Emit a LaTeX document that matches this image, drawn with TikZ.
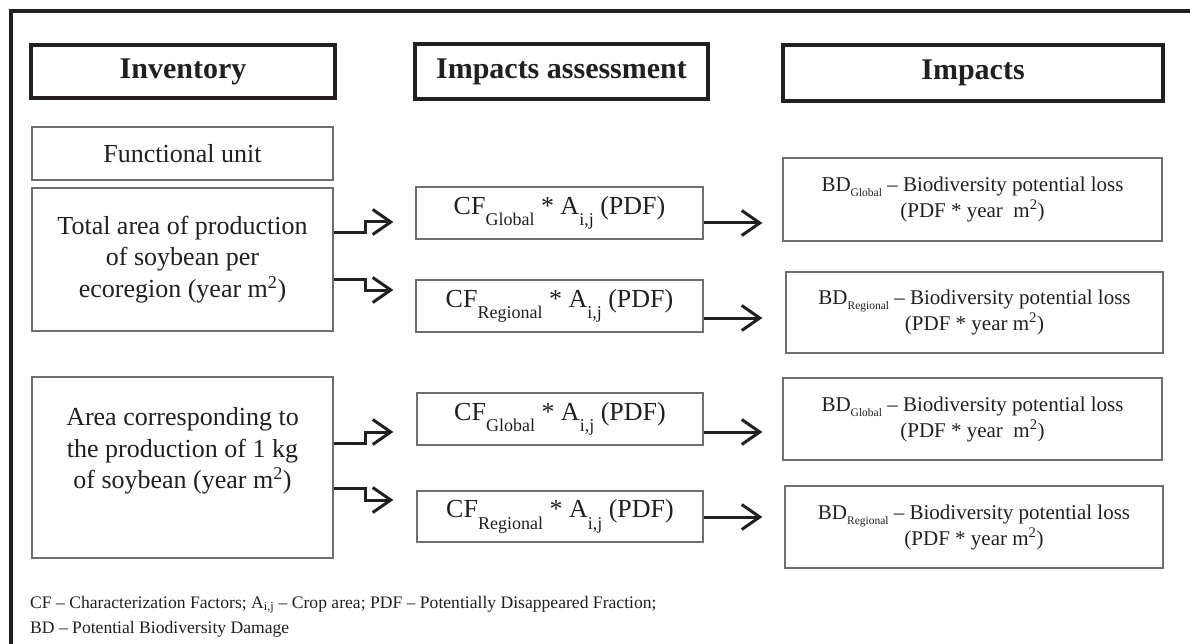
\documentclass[tikz,border=0pt]{standalone}
\usepackage{fontspec}
\setmainfont{Liberation Serif}
\usetikzlibrary{arrows.meta}
\definecolor{ink}{HTML}{231F20}
\definecolor{edge}{HTML}{6D6E70}
\newcommand\lowsub[1]{\raisebox{-0.55ex}{\fontsize{11.5}{12}\selectfont #1}}
\newcommand\cfsub[1]{\raisebox{-0.45em}{\fontsize{18}{18}\selectfont #1}}
\begin{document}
\begin{tikzpicture}[x=1pt,y=-1pt,
  hdr/.style={draw=ink, line width=3.5pt, text=ink, font=\fontsize{30}{34}\selectfont\bfseries, inner sep=0pt},
  box/.style={draw=edge, line width=1.3pt, text=ink, align=center, inner sep=0pt},
  big/.style={font=\fontsize{26}{31.5}\selectfont},
  small/.style={font=\fontsize{21}{26}\selectfont},
  foot/.style={text=ink, font=\fontsize{17.6}{22}\selectfont, inner sep=0pt, anchor=base west},
  arr/.style={draw=ink, line width=3pt, line join=miter, -{Straight Barb[length=18pt,width=25pt]}}
]
\useasboundingbox (0,0) rectangle (1190,644);
\fill[white] (0,0) rectangle (1190,644);
% outer frame (top and left)
\draw[ink, line width=4pt, line join=miter] (10.5,644) -- (10.5,11) -- (1190,11);

% headers
\node[hdr, minimum width=304, minimum height=53] (inv) at (183,71.5) {Inventory};
\node[hdr, minimum width=293, minimum height=55] (ia) at (561.5,71.5) {Impacts assessment};
\node[hdr, minimum width=380, minimum height=56] (imp) at (973,73) {Impacts};

% inventory boxes
\node[box, big, minimum width=301, minimum height=53] (fu) at (182.5,153.5) {Functional unit};
\node[box, big, minimum width=301, minimum height=143] (tot) at (182.5,259.5)
  {Total area of production\\of soybean per\\ecoregion (year m\textsuperscript{2})};
\node[box, minimum width=301, minimum height=181] (area) at (182.5,467.5) {};
\node[big, text=ink, align=center, inner sep=0pt] (areatxt) at (182.5,451)
  {Area corresponding to\\the production of 1 kg\\of soybean (year m\textsuperscript{2})};

% impacts assessment boxes
\node[box, big, minimum width=287, minimum height=52] (cfg1) at (559.5,213)
  {CF\cfsub{Global} * A\cfsub{i,j} (PDF)};
\node[box, big, minimum width=287, minimum height=52] (cfr1) at (559.5,306)
  {CF\cfsub{Regional} * A\cfsub{i,j} (PDF)};
\node[box, big, minimum width=286, minimum height=52] (cfg2) at (560,419)
  {CF\cfsub{Global} * A\cfsub{i,j} (PDF)};
\node[box, big, minimum width=286, minimum height=51] (cfr2) at (560,516.5)
  {CF\cfsub{Regional} * A\cfsub{i,j} (PDF)};

% impacts boxes
\node[box, small, minimum width=379, minimum height=83] (bdg1) at (972.5,199.5)
  {BD\lowsub{Global} -- Biodiversity potential loss\\(PDF * year \ m\textsuperscript{2})};
\node[box, small, minimum width=377, minimum height=81] (bdr1) at (974.5,312.5)
  {BD\lowsub{Regional} -- Biodiversity potential loss\\(PDF * year m\textsuperscript{2})};
\node[box, small, minimum width=379, minimum height=82] (bdg2) at (972.5,419)
  {BD\lowsub{Global} -- Biodiversity potential loss\\(PDF * year \ m\textsuperscript{2})};
\node[box, small, minimum width=378, minimum height=82] (bdr2) at (974,527)
  {BD\lowsub{Regional} -- Biodiversity potential loss\\(PDF * year m\textsuperscript{2})};

% elbow arrows
\draw[arr, shorten >=22pt] (tot.east |- 0,233) -| (365,222) -- (cfg1.west |- 0,222);
\draw[arr, shorten >=22pt] (tot.east |- 0,279) -| (365,290) -- (cfr1.west |- 0,290);
\draw[arr, shorten >=23pt] (area.east |- 0,443) -| (365,432) -- (cfg2.west |- 0,432);
\draw[arr, shorten >=23pt] (area.east |- 0,488) -| (365,500) -- (cfr2.west |- 0,500);

% straight arrows
\draw[arr, shorten >=20pt] (cfg1.east |- 0,223) -- (bdg1.west |- 0,223);
\draw[arr, shorten >=23pt] (cfr1.east |- 0,318) -- (bdr1.west |- 0,318);
\draw[arr, shorten >=20pt] (cfg2.east |- 0,432) -- (bdg2.west |- 0,432);
\draw[arr, shorten >=22pt] (cfr2.east |- 0,517) -- (bdr2.west |- 0,517);

% footer
\node[foot] (foot1) at (30,608) {CF -- Characterization Factors; A\textsubscript{i,j} -- Crop area; PDF -- Potentially Disappeared Fraction;};
\node[foot] (foot2) at (30,633) {BD -- Potential Biodiversity Damage};
\end{tikzpicture}
\end{document}
